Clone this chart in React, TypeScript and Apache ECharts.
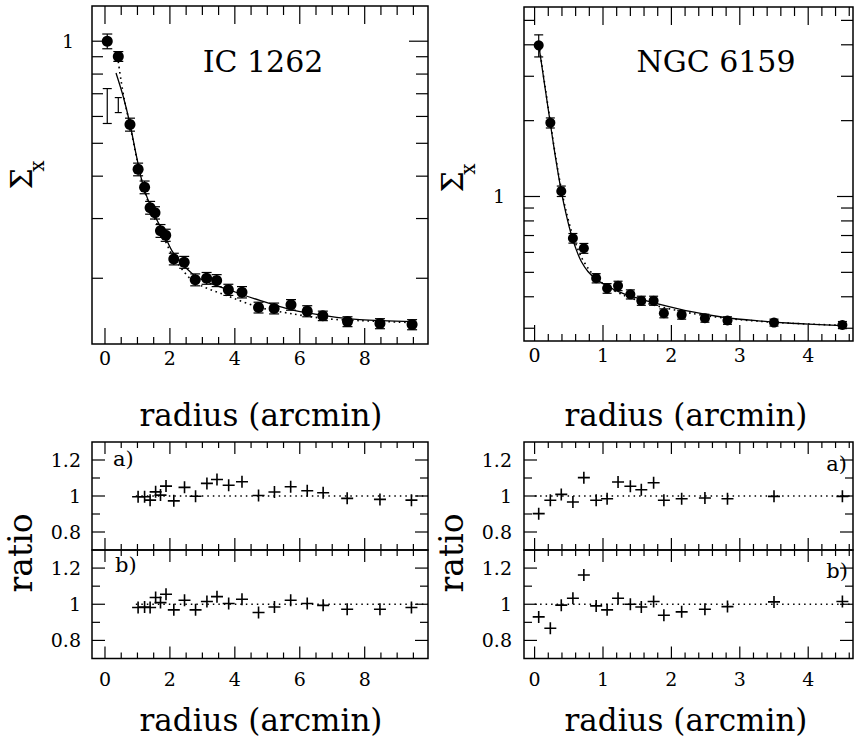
import React, { useEffect, useRef } from "react";
import * as echarts from "echarts";

// ---------- IC 1262 ----------
const radiusIC = [0.07, 0.41, 0.77, 1.02, 1.22, 1.39, 1.54, 1.71, 1.87, 2.12, 2.44, 2.78, 3.13, 3.44, 3.8, 4.22, 4.73, 5.21, 5.73, 6.23, 6.71, 7.47, 8.47, 9.46];
const sigmaIC = [1.0, 0.902, 0.568, 0.419, 0.371, 0.323, 0.312, 0.276, 0.268, 0.228, 0.223, 0.198, 0.2, 0.197, 0.185, 0.182, 0.164, 0.163, 0.167, 0.16, 0.155, 0.149, 0.147, 0.146];
const errIC = [0.05, 0.03, 0.025, 0.018, 0.016, 0.014, 0.013, 0.012, 0.011, 0.009, 0.009, 0.008, 0.008, 0.008, 0.007, 0.007, 0.006, 0.006, 0.006, 0.006, 0.005, 0.005, 0.005, 0.005];
// representative error bars (x, low, high)
const sysBarX = [0.07, 0.41];
const sysBarLow = [0.572, 0.616];
const sysBarHigh = [0.725, 0.682];
const modelICSolidX = [0.34, 0.56, 0.77, 0.97, 1.18, 1.49, 1.8, 2.1, 2.72, 3.2, 3.74, 4.77, 5.79, 6.82, 7.85, 9.49];
const modelICSolid = [0.806, 0.688, 0.57, 0.458, 0.374, 0.312, 0.273, 0.238, 0.205, 0.194, 0.186, 0.172, 0.161, 0.155, 0.151, 0.149];
const modelICDotX = [0.41, 0.5, 0.6, 0.77, 0.97, 1.18, 1.49, 1.8, 2.1, 2.72, 3.74, 4.77, 5.79, 6.82, 7.85, 9.49];
const modelICDot = [0.87, 0.76, 0.67, 0.565, 0.455, 0.372, 0.306, 0.265, 0.232, 0.196, 0.178, 0.164, 0.157, 0.152, 0.15, 0.148];
const ratioICx = [1.02, 1.22, 1.39, 1.56, 1.71, 1.88, 2.12, 2.45, 2.79, 3.14, 3.45, 3.81, 4.22, 4.73, 5.22, 5.72, 6.23, 6.72, 7.46, 8.47, 9.44];
const ratioICa = [0.996, 0.996, 0.977, 1.023, 1.005, 1.055, 0.973, 1.048, 0.999, 1.07, 1.092, 1.06, 1.079, 1.003, 1.022, 1.051, 1.029, 1.018, 0.987, 0.981, 0.977];
const ratioICb = [0.982, 0.985, 0.982, 1.037, 1.009, 1.055, 0.969, 1.022, 0.969, 1.015, 1.042, 1.004, 1.028, 0.954, 0.985, 1.022, 1.004, 0.994, 0.972, 0.972, 0.982];
const refLineICx = [0.95, 9.95];

// ---------- NGC 6159 ----------
const radiusNGC = [0.06, 0.23, 0.39, 0.56, 0.72, 0.9, 1.06, 1.22, 1.4, 1.56, 1.74, 1.89, 2.15, 2.49, 2.82, 3.5, 4.5];
const sigmaNGC = [3.98, 1.96, 1.05, 0.683, 0.623, 0.474, 0.432, 0.442, 0.409, 0.386, 0.386, 0.344, 0.339, 0.329, 0.322, 0.316, 0.309];
const errNGC = [0.4, 0.09, 0.05, 0.03, 0.028, 0.02, 0.019, 0.019, 0.017, 0.016, 0.016, 0.014, 0.013, 0.012, 0.011, 0.01, 0.01];
const modelNGCX = [0.063, 0.146, 0.229, 0.307, 0.39, 0.463, 0.537, 0.61, 0.683, 0.78, 0.902, 1.073, 1.317, 1.561, 1.805, 2.293, 2.78, 3.268, 3.756, 4.5];
const modelNGCSolid = [3.95, 2.78, 1.96, 1.42, 1.05, 0.846, 0.705, 0.614, 0.552, 0.504, 0.469, 0.439, 0.41, 0.391, 0.375, 0.349, 0.331, 0.321, 0.314, 0.307];
const modelNGCDot = [4.0, 2.82, 1.98, 1.44, 1.07, 0.87, 0.73, 0.64, 0.575, 0.52, 0.475, 0.437, 0.404, 0.383, 0.367, 0.344, 0.329, 0.32, 0.314, 0.308];
const ratioNGCa = [0.902, 0.976, 1.009, 0.967, 1.102, 0.976, 0.985, 1.078, 1.054, 1.035, 1.074, 0.976, 0.985, 0.989, 0.985, 0.998, 0.998];
const ratioNGCb = [0.93, 0.867, 0.995, 1.033, 1.162, 0.991, 0.969, 1.033, 1.0, 0.985, 1.015, 0.939, 0.958, 0.972, 0.987, 1.013, 1.015];
const refLineNGCx = [0, 4.66];

// ---------- ticks ----------
const xMajorIC = [0, 2, 4, 6, 8];
const xMinorIC = [0.5, 1, 1.5, 2.5, 3, 3.5, 4.5, 5, 5.5, 6.5, 7, 7.5, 8.5, 9, 9.5];
const xMajorNGC = [0, 1, 2, 3, 4];
const xMinorNGC = [0.2, 0.4, 0.6, 0.8, 1.2, 1.4, 1.6, 1.8, 2.2, 2.4, 2.6, 2.8, 3.2, 3.4, 3.6, 3.8, 4.2, 4.4, 4.6];
const yMajorICTop = [1];
const yMinorICTop = [0.2, 0.3, 0.4, 0.5, 0.6, 0.7, 0.8, 0.9];
const yMajorNGCTop = [1];
const yMinorNGCTop = [0.3, 0.4, 0.5, 0.6, 0.7, 0.8, 0.9, 2, 3, 4, 5];
const yMajorRatio = [0.8, 1, 1.2];
const yMinorRatio = [0.9, 1.1];
const ratioLabels = [0.8, 1, 1.2];

// ---------- ranges ----------
const xRangeIC = [-0.4, 9.95];
const xRangeNGC = [-0.155, 4.655];
const yRangeICTop = [0.128, 1.27];
const yRangeNGCTop = [0.267, 5.65];
const yRangeRatio = [0.7, 1.3];

const FONT = '"DejaVu Serif", "Liberation Serif", serif';
const PLUS = "path://M0,5.2L12,5.2L12,6.8L0,6.8Z M5.2,0L6.8,0L6.8,12L5.2,12Z";

type Rect = { left: number; top: number; width: number; height: number };
const gridRects: Rect[] = [
  { left: 92, top: 6, width: 336, height: 338 },
  { left: 524, top: 7, width: 329, height: 334 },
  { left: 92, top: 442, width: 336, height: 108 },
  { left: 92, top: 550, width: 336, height: 108.5 },
  { left: 524, top: 442, width: 329, height: 108 },
  { left: 524, top: 550, width: 329, height: 108.5 },
];

type Panel = {
  xr: number[];
  yr: number[];
  xMaj: number[];
  xMin: number[];
  yMaj: number[];
  yMin: number[];
  xMajLen: number[]; // [bottom, top]
  xMinLen: number[];
  yMajLen: number[]; // [left, right]
  yMinLen: number[];
};
const ratioLens = { xMajLen: [12, 12], xMinLen: [6, 6], yMajLen: [13, 13], yMinLen: [8, 8] };
const panels: Panel[] = [
  { xr: xRangeIC, yr: yRangeICTop, xMaj: xMajorIC, xMin: xMinorIC, yMaj: yMajorICTop, yMin: yMinorICTop, xMajLen: [16, 18], xMinLen: [7, 9], yMajLen: [17, 19], yMinLen: [11, 12] },
  { xr: xRangeNGC, yr: yRangeNGCTop, xMaj: xMajorNGC, xMin: xMinorNGC, yMaj: yMajorNGCTop, yMin: yMinorNGCTop, xMajLen: [16, 18], xMinLen: [7, 9], yMajLen: [16, 16], yMinLen: [10, 12] },
  { xr: xRangeIC, yr: yRangeRatio, xMaj: xMajorIC, xMin: xMinorIC, yMaj: yMajorRatio, yMin: yMinorRatio, ...ratioLens },
  { xr: xRangeIC, yr: yRangeRatio, xMaj: xMajorIC, xMin: xMinorIC, yMaj: yMajorRatio, yMin: yMinorRatio, ...ratioLens },
  { xr: xRangeNGC, yr: yRangeRatio, xMaj: xMajorNGC, xMin: xMinorNGC, yMaj: yMajorRatio, yMin: yMinorRatio, ...ratioLens },
  { xr: xRangeNGC, yr: yRangeRatio, xMaj: xMajorNGC, xMin: xMinorNGC, yMaj: yMajorRatio, yMin: yMinorRatio, ...ratioLens },
];

function renderErr(params: any, api: any) {
  const x = api.value(0);
  const lo = api.coord([x, api.value(1)]);
  const hi = api.coord([x, api.value(2)]);
  const c = api.value(3);
  const st = { stroke: "#000", lineWidth: 1.2 };
  return {
    type: "group",
    children: [
      { type: "line", shape: { x1: lo[0], y1: lo[1], x2: hi[0], y2: hi[1] }, style: st },
      { type: "line", shape: { x1: lo[0] - c, y1: lo[1], x2: lo[0] + c, y2: lo[1] }, style: st },
      { type: "line", shape: { x1: hi[0] - c, y1: hi[1], x2: hi[0] + c, y2: hi[1] }, style: st },
    ],
  };
}

const zip = (xs: number[], ys: number[]) => xs.map((x, i) => [x, ys[i]]);

const txt = (text: string, x: number, y: number, size: number, rotation = 0, align = "center") => ({
  type: "text",
  x,
  y,
  rotation,
  silent: true,
  z: 10,
  style: { text, fontFamily: FONT, fontSize: size, fill: "#000", align, verticalAlign: "middle" },
});

const textGraphics = [
  txt("IC 1262", 263, 61, 30),
  txt("NGC 6159", 716, 61, 30),
  txt("radius (arcmin)", 261, 415, 31),
  txt("radius (arcmin)", 686, 415, 31),
  txt("radius (arcmin)", 261, 720, 31),
  txt("radius (arcmin)", 686, 720, 31),
  txt("ratio", 20, 553, 33, Math.PI / 2),
  txt("ratio", 451, 553, 33, Math.PI / 2),
  txt("Σ", 21, 179, 30, Math.PI / 2),
  txt("x", 37, 166, 20, Math.PI / 2),
  txt("Σ", 452, 182, 30, Math.PI / 2),
  txt("x", 468, 169, 20, Math.PI / 2),
  txt("a)", 113, 459, 21, 0, "left"),
  txt("b)", 115, 565, 21, 0, "left"),
  txt("a)", 847, 464, 21, 0, "right"),
  txt("b)", 848, 571, 21, 0, "right"),
];

function buildOption() {
  const grids = gridRects.map((g) => ({ ...g, show: true, borderColor: "#000", borderWidth: 1.5, backgroundColor: "rgba(0,0,0,0)" }));
  const labelStyle = { fontFamily: FONT, fontSize: 19, color: "#000" };

  const mkX = (gi: number, range: number[], labels: number[] | null, margin: number, vAlign: string) => ({
    type: "value",
    gridIndex: gi,
    min: range[0],
    max: range[1],
    axisLine: { show: false, onZero: false },
    axisTick: { show: false },
    splitLine: { show: false },
    axisLabel: labels ? { ...labelStyle, customValues: labels, margin, verticalAlign: vAlign } : { show: false },
  });
  const xAxis = [
    mkX(0, xRangeIC, xMajorIC, 14, "middle"),
    mkX(1, xRangeNGC, xMajorNGC, 14, "middle"),
    mkX(2, xRangeIC, null, 0, "top"),
    mkX(3, xRangeIC, xMajorIC, 11, "top"),
    mkX(4, xRangeNGC, null, 0, "top"),
    mkX(5, xRangeNGC, xMajorNGC, 11, "top"),
  ];
  const mkY = (gi: number, type: string, range: number[], labels: number[], margin: number) => ({
    type,
    gridIndex: gi,
    min: range[0],
    max: range[1],
    ...(type === "log" ? { logBase: 10 } : {}),
    axisLine: { show: false, onZero: false },
    axisTick: { show: false },
    splitLine: { show: false },
    axisLabel: { ...labelStyle, customValues: labels, margin },
  });
  const yAxis = [
    mkY(0, "log", yRangeICTop, [1], 18),
    mkY(1, "log", yRangeNGCTop, [1], 19),
    mkY(2, "value", yRangeRatio, ratioLabels, 11),
    mkY(3, "value", yRangeRatio, ratioLabels, 11),
    mkY(4, "value", yRangeRatio, ratioLabels, 12),
    mkY(5, "value", yRangeRatio, ratioLabels, 12),
  ];

  const series: any[] = [];

  const line = (gi: number, data: number[][], dotted: boolean) => ({
    type: "line",
    xAxisIndex: gi,
    yAxisIndex: gi,
    data,
    showSymbol: false,
    smooth: 0.3,
    silent: true,
    lineStyle: dotted ? { color: "#000", width: 1.6, type: [1.6, 3.6] } : { color: "#000", width: 1.3 },
    z: 3,
  });

  // top panels: model curves
  series.push(line(0, zip(modelICSolidX, modelICSolid), false));
  series.push(line(0, zip(modelICDotX, modelICDot), true));
  series.push(line(1, zip(modelNGCX, modelNGCSolid), false));
  series.push(line(1, zip(modelNGCX, modelNGCDot), true));

  // error bars
  series.push({
    type: "custom",
    xAxisIndex: 0,
    yAxisIndex: 0,
    renderItem: renderErr,
    silent: true,
    z: 4,
    data: radiusIC.map((x, i) => [x, sigmaIC[i] - errIC[i], sigmaIC[i] + errIC[i], 5]),
  });
  series.push({
    type: "custom",
    xAxisIndex: 0,
    yAxisIndex: 0,
    renderItem: renderErr,
    silent: true,
    z: 4,
    data: sysBarX.map((x, i) => [x, sysBarLow[i], sysBarHigh[i], i === 0 ? 4.5 : 3.5]),
  });
  series.push({
    type: "custom",
    xAxisIndex: 1,
    yAxisIndex: 1,
    renderItem: renderErr,
    silent: true,
    z: 4,
    data: radiusNGC.map((x, i) => [x, sigmaNGC[i] - errNGC[i], sigmaNGC[i] + errNGC[i], 4.5]),
  });

  // data points
  series.push({
    type: "scatter",
    xAxisIndex: 0,
    yAxisIndex: 0,
    data: zip(radiusIC, sigmaIC),
    symbol: "circle",
    symbolSize: 11,
    itemStyle: { color: "#000", opacity: 1 },
    silent: true,
    z: 6,
  });
  series.push({
    type: "scatter",
    xAxisIndex: 1,
    yAxisIndex: 1,
    data: zip(radiusNGC, sigmaNGC),
    symbol: "circle",
    symbolSize: 10,
    itemStyle: { color: "#000", opacity: 1 },
    silent: true,
    z: 6,
  });

  // ratio panels
  const plus = (gi: number, data: number[][]) => ({
    type: "scatter",
    xAxisIndex: gi,
    yAxisIndex: gi,
    data,
    symbol: PLUS,
    symbolSize: 12,
    itemStyle: { color: "#000", opacity: 1 },
    silent: true,
    z: 6,
  });
  const ref = (gi: number, xs: number[]) => ({
    type: "line",
    xAxisIndex: gi,
    yAxisIndex: gi,
    data: xs.map((x) => [x, 1]),
    showSymbol: false,
    silent: true,
    lineStyle: { color: "#000", width: 1.5, type: [1.5, 4] },
    z: 3,
  });
  series.push(ref(2, refLineICx), plus(2, zip(ratioICx, ratioICa)));
  series.push(ref(3, refLineICx), plus(3, zip(ratioICx, ratioICb)));
  series.push(ref(4, refLineNGCx), plus(4, zip(radiusNGC, ratioNGCa)));
  series.push(ref(5, refLineNGCx), plus(5, zip(radiusNGC, ratioNGCb)));

  return {
    animation: false,
    backgroundColor: "#fff",
    grid: grids,
    xAxis,
    yAxis,
    series,
    graphic: textGraphics,
  };
}

// tick marks as graphic lines, positioned through the chart's own axis scales
function buildTickGraphics(chart: any) {
  const out: any[] = [];
  const st = { stroke: "#000", lineWidth: 1.2 };
  const ok = (p: any) => Array.isArray(p) && isFinite(p[0]) && isFinite(p[1]);
  panels.forEach((p, gi) => {
    const finder = { xAxisIndex: gi, yAxisIndex: gi };
    const addX = (vals: number[], lens: number[]) =>
      vals.forEach((v) => {
        const pb = chart.convertToPixel(finder, [v, p.yr[0]]);
        const pt = chart.convertToPixel(finder, [v, p.yr[1]]);
        if (ok(pb)) out.push({ type: "line", silent: true, z: 9, shape: { x1: pb[0], y1: pb[1], x2: pb[0], y2: pb[1] - lens[0] }, style: st });
        if (ok(pt)) out.push({ type: "line", silent: true, z: 9, shape: { x1: pt[0], y1: pt[1], x2: pt[0], y2: pt[1] + lens[1] }, style: st });
      });
    const addY = (vals: number[], lens: number[]) =>
      vals.forEach((v) => {
        const pl = chart.convertToPixel(finder, [p.xr[0], v]);
        const pr = chart.convertToPixel(finder, [p.xr[1], v]);
        if (ok(pl)) out.push({ type: "line", silent: true, z: 9, shape: { x1: pl[0], y1: pl[1], x2: pl[0] + lens[0], y2: pl[1] }, style: st });
        if (ok(pr)) out.push({ type: "line", silent: true, z: 9, shape: { x1: pr[0], y1: pr[1], x2: pr[0] - lens[1], y2: pr[1] }, style: st });
      });
    addX(p.xMaj, p.xMajLen);
    addX(p.xMin, p.xMinLen);
    addY(p.yMaj, p.yMajLen);
    addY(p.yMin, p.yMinLen);
  });
  return out;
}

export default function App() {
  const ref = useRef<HTMLDivElement>(null);
  useEffect(() => {
    if (!ref.current) return;
    const chart = echarts.init(ref.current, undefined, { renderer: "svg" });
    chart.setOption(buildOption() as any);
    try {
      const ticks = buildTickGraphics(chart);
      if (ticks.length) chart.setOption({ graphic: [...textGraphics, ...ticks] } as any);
    } catch (e) {
      // keep the chart without extra ticks
    }
    return () => chart.dispose();
  }, []);
  return (
    <div
      ref={ref}
      style={{ position: "absolute", left: 0, top: 0, width: 855, height: 738, background: "#fff" }}
    />
  );
}
